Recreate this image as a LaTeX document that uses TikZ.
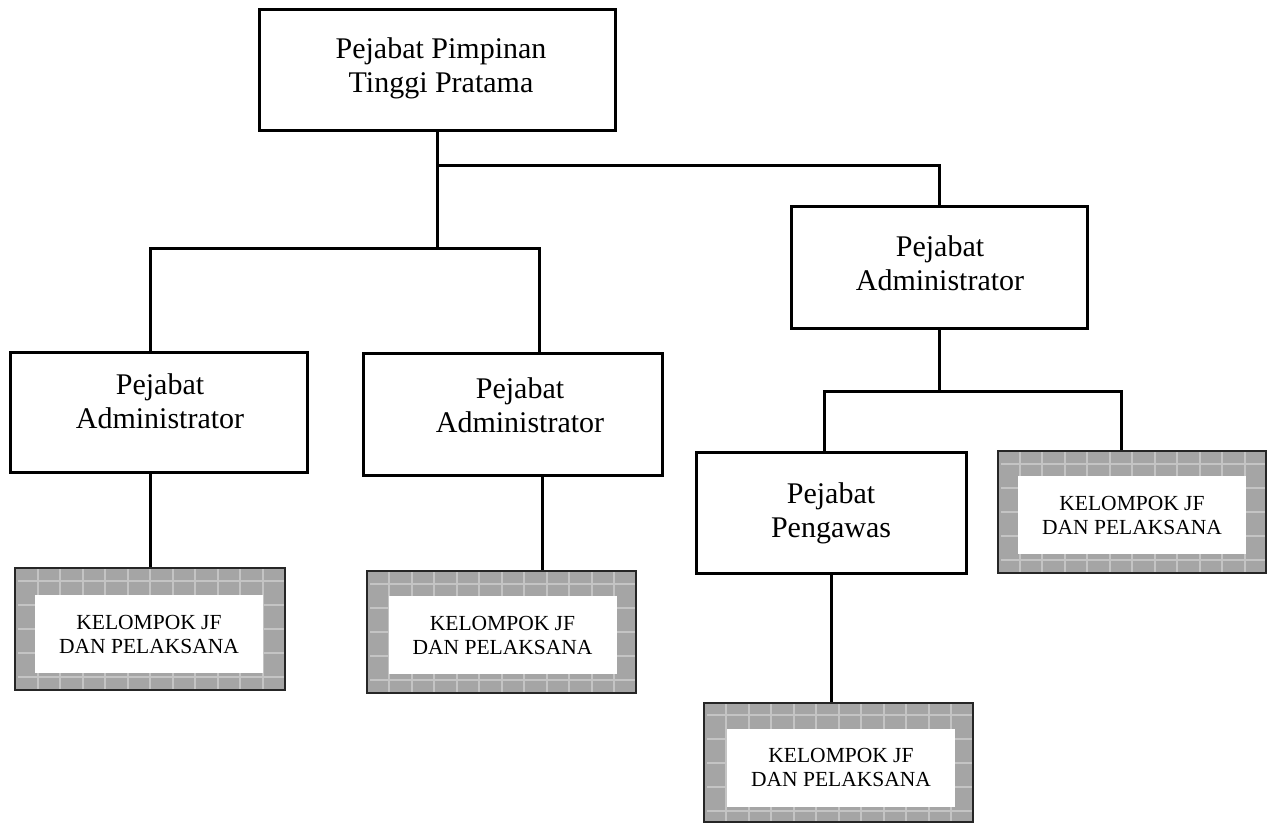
\documentclass[tikz,border=0pt]{standalone}
\usepackage{fontspec}
\setmainfont{Liberation Serif}
\definecolor{tilegray}{RGB}{165,165,165}
\definecolor{tileline}{RGB}{196,196,196}
\begin{document}
\begin{tikzpicture}[x=1pt,y=-1pt,
  box/.style={draw=black, line width=3pt, fill=white, inner sep=0pt},
  big/.style={align=center, font=\fontsize{30}{34}\selectfont, inner sep=0pt},
  small/.style={align=center, font=\fontsize{21.5}{24}\selectfont, inner sep=0pt},
  tiled/.style={draw=black!85, line width=2.5pt, fill=tilegray, inner sep=0pt,
    path picture={\draw[line width=2pt, tileline]
        ([xshift=3pt,yshift=-4pt]path picture bounding box.south west)
        grid[xstep=22.5pt, ystep=24pt]
        (path picture bounding box.north east);}},
  whitebox/.style={fill=white, inner sep=0pt, minimum width=228pt, minimum height=78pt},
  conn/.style={line width=3pt, line join=miter}
]
\useasboundingbox (0,0) rectangle (1270,825);

% junction points of the connector tree
\coordinate (jt) at (437,165);
\coordinate (jl) at (150,248);
\coordinate (jm) at (539,248);
\coordinate (jpl) at (824,391);
\coordinate (jpr) at (1121,391);

% plain boxes
\node[box, minimum width=356pt, minimum height=121pt] (top) at (437,69.5) {};
\node[box, minimum width=297pt, minimum height=120pt] (la) at (158.5,412) {};
\node[box, minimum width=299pt, minimum height=122pt] (ma) at (512.5,414) {};
\node[box, minimum width=296pt, minimum height=122pt] (ra) at (939,267) {};
\node[box, minimum width=270pt, minimum height=121pt] (pg) at (831,512.5) {};

% box labels
\node[big] (top-t) at (441,68.5) {Pejabat Pimpinan\\Tinggi Pratama};
\node[big] (la-t) at (160,401) {Pejabat\\Administrator};
\node[big] (ma-t) at (520,405) {Pejabat\\Administrator};
\node[big] (ra-t) at (940,263) {Pejabat\\Administrator};
\node[big] (pg-t) at (831,513) {Pejabat\\Pengawas};

% tiled group boxes
\node[tiled, minimum width=270pt, minimum height=122pt] (k1) at (150,629) {};
\node[whitebox, small] (k1-t) at (149,634) {KELOMPOK JF\\DAN PELAKSANA};
\node[tiled, minimum width=269pt, minimum height=122pt] (k2) at (501.5,632) {};
\node[whitebox, small] (k2-t) at (502.5,635) {KELOMPOK JF\\DAN PELAKSANA};
\node[tiled, minimum width=268pt, minimum height=122pt] (k3) at (1132,512) {};
\node[whitebox, small] (k3-t) at (1132,515) {KELOMPOK JF\\DAN PELAKSANA};
\node[tiled, minimum width=269pt, minimum height=119pt] (k4) at (838.5,762.5) {};
\node[whitebox, small] (k4-t) at (841,767.5) {KELOMPOK JF\\DAN PELAKSANA};

% connectors
\draw[conn] (top.south) -- (top.south |- jl);
\draw[conn] (jt) -| (ra.north);
\draw[conn] (jl |- la.north) -- (jl) -- (jm) -- (jm |- ma.north);
\draw[conn] (k1.north |- la.south) -- (k1.north);
\draw[conn] ([xshift=29.5pt]ma.south) -- ([xshift=29.5pt]ma.south |- k2.north);
\draw[conn] (ra.south) -- (ra.south |- jpl);
\draw[conn] (jpl |- pg.north) -- (jpl) -- (jpr) -- (jpr |- k3.north);
\draw[conn] (pg.south) -- (pg.south |- k4.north);
\end{tikzpicture}
\end{document}
